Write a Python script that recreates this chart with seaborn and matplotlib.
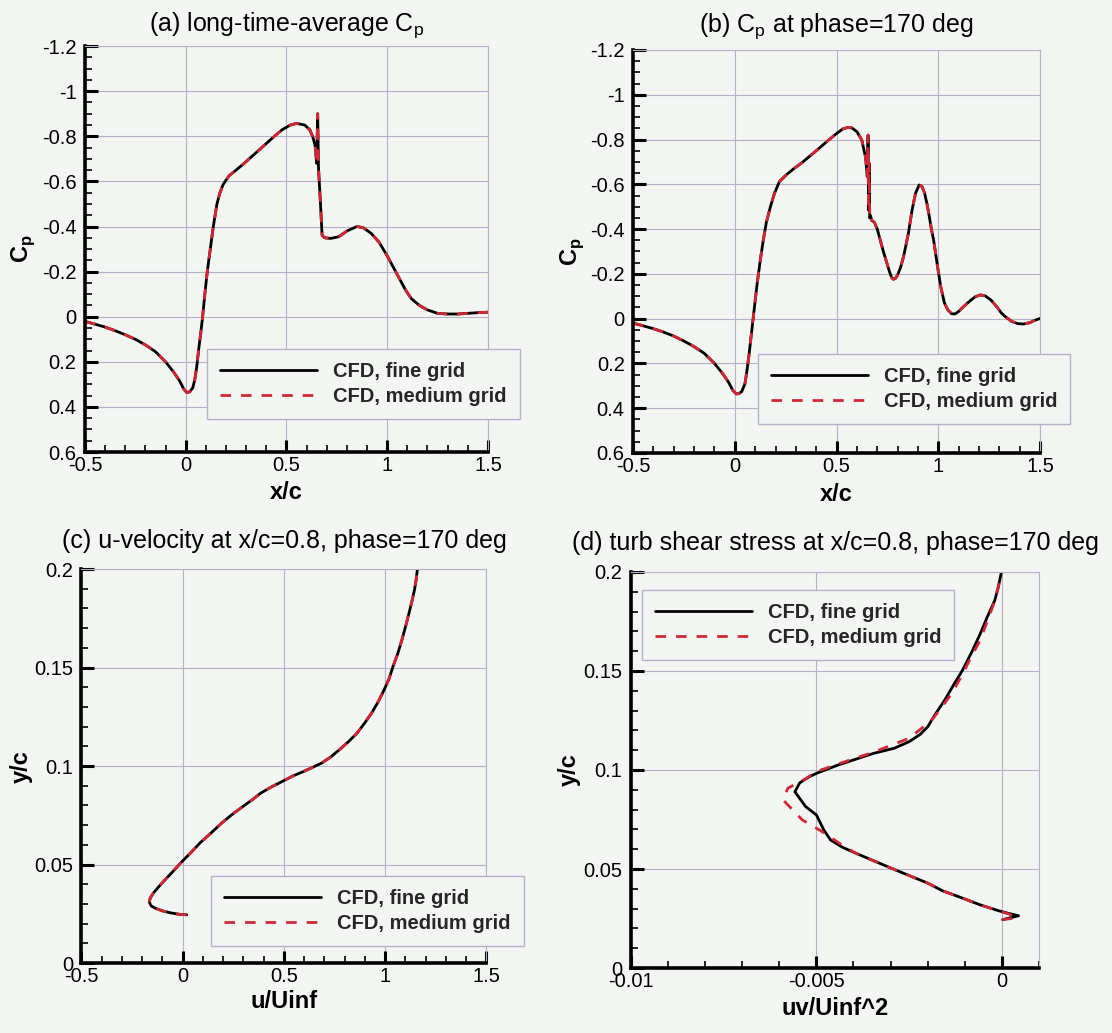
import numpy as np
import pandas as pd
import matplotlib
matplotlib.use('Agg')
import matplotlib.pyplot as plt
import seaborn as sns
from matplotlib.ticker import MultipleLocator, FuncFormatter

# (a) long-time-average Cp
xa_fine = [-0.5, -0.45, -0.4, -0.35, -0.3, -0.25, -0.2, -0.15, -0.1, -0.06, -0.03, -0.01, 0.005,
           0.02, 0.035, 0.045, 0.055, 0.065, 0.075, 0.084, 0.095, 0.107, 0.122, 0.137, 0.155, 0.17,
           0.185, 0.2, 0.215, 0.25, 0.29, 0.34, 0.39, 0.44, 0.48, 0.52, 0.55, 0.59, 0.615, 0.63,
           0.642, 0.65, 0.655, 0.659, 0.668, 0.677, 0.69, 0.72, 0.76, 0.80, 0.85, 0.88, 0.92, 0.96,
           1.0, 1.03, 1.06, 1.09, 1.12, 1.16, 1.2, 1.25, 1.3, 1.35, 1.4, 1.45, 1.5]
cpa_fine = [0.021, 0.033, 0.046, 0.062, 0.08, 0.10, 0.125, 0.155, 0.2, 0.245, 0.285, 0.32, 0.336,
            0.333, 0.315, 0.28, 0.22, 0.14, 0.07, 0.0, -0.1, -0.2, -0.3, -0.4, -0.5, -0.55,
            -0.585, -0.605, -0.625, -0.65, -0.68, -0.72, -0.76, -0.80, -0.83, -0.85, -0.857, -0.85, -0.83, -0.80,
            -0.76, -0.68, -0.90, -0.66, -0.515, -0.36, -0.35, -0.347, -0.355, -0.38, -0.40, -0.395, -0.37, -0.33,
            -0.27, -0.22, -0.17, -0.12, -0.08, -0.05, -0.03, -0.015, -0.012, -0.012, -0.015, -0.018, -0.02]
xa_med = xa_fine
cpa_med = cpa_fine

# (b) Cp at phase=170 deg
xb_fine = [-0.5, -0.45, -0.4, -0.35, -0.3, -0.25, -0.2, -0.15, -0.1, -0.06, -0.03, -0.01, 0.007,
           0.02, 0.034, 0.05, 0.06, 0.07, 0.08, 0.09, 0.1, 0.11, 0.125, 0.14, 0.155, 0.175, 0.195,
           0.219, 0.25, 0.29, 0.325, 0.37, 0.413, 0.46, 0.5, 0.53, 0.554, 0.575, 0.6, 0.624, 0.642,
           0.651, 0.655, 0.657, 0.66, 0.663, 0.667, 0.672, 0.686, 0.70, 0.712, 0.73, 0.745, 0.76,
           0.77, 0.779, 0.79, 0.80, 0.815, 0.83, 0.853, 0.87, 0.888, 0.906, 0.92, 0.933, 0.945,
           0.955, 0.966, 0.977, 0.995, 1.012, 1.03, 1.047, 1.065, 1.082, 1.10, 1.12, 1.15, 1.18,
           1.206, 1.23, 1.259, 1.29, 1.31, 1.329, 1.36, 1.39, 1.418, 1.45, 1.47, 1.5]
cpb_fine = [0.02, 0.032, 0.045, 0.06, 0.078, 0.1, 0.125, 0.155, 0.2, 0.245, 0.285, 0.32, 0.336,
            0.335, 0.326, 0.29, 0.23, 0.16, 0.08, 0.0, -0.08, -0.158, -0.26, -0.351, -0.43, -0.5, -0.56,
            -0.612, -0.64, -0.67, -0.693, -0.727, -0.76, -0.797, -0.827, -0.847, -0.854, -0.852, -0.835, -0.798, -0.723,
            -0.634, -0.82, -0.485, -0.695, -0.45, -0.46, -0.44, -0.43, -0.40, -0.36, -0.30, -0.255, -0.21,
            -0.185, -0.176, -0.18, -0.195, -0.23, -0.28, -0.381, -0.48, -0.56, -0.597, -0.59, -0.56, -0.51,
            -0.46, -0.40, -0.351, -0.24, -0.143, -0.07, -0.039, -0.022, -0.021, -0.032, -0.05, -0.075, -0.097,
            -0.106, -0.102, -0.083, -0.05, -0.025, -0.009, 0.012, 0.022, 0.024, 0.018, 0.009, -0.001]
xb_med = xb_fine
cpb_med = cpb_fine

# (c) u-velocity profile at x/c=0.8
uc_fine = [0.02, -0.02, -0.06, -0.10, -0.135, -0.155, -0.165, -0.16, -0.145, -0.116, -0.085, -0.055,
           -0.01, 0.04, 0.086, 0.14, 0.192, 0.245, 0.298, 0.345, 0.386, 0.44, 0.492, 0.545, 0.598,
           0.645, 0.686, 0.73, 0.774, 0.82, 0.862, 0.9, 0.933, 0.965, 0.995, 1.02, 1.039, 1.062,
           1.083, 1.10, 1.118, 1.133, 1.145, 1.153, 1.159]
yc_fine = [0.0245, 0.0248, 0.0255, 0.0265, 0.0278, 0.029, 0.031, 0.033, 0.0355, 0.039, 0.0425, 0.0457,
           0.0508, 0.056, 0.061, 0.066, 0.071, 0.0755, 0.0795, 0.083, 0.0863, 0.0895, 0.0922, 0.095, 0.0973,
           0.0995, 0.1015, 0.1045, 0.1083, 0.1125, 0.1168, 0.122, 0.1269, 0.1325, 0.1387, 0.1445, 0.1506, 0.157,
           0.1641, 0.1705, 0.1777, 0.184, 0.1895, 0.1945, 0.1997]
uc_med = uc_fine
yc_med = yc_fine

# (d) turbulent shear stress profile at x/c=0.8
uvd_fine = [0.00002, 0.00045, 0.0002, -0.0001, -0.0006, -0.00106, -0.0016, -0.0020, -0.0025, -0.00298,
            -0.0035, -0.00394, -0.0043, -0.00462, -0.0048, -0.005, -0.00529, -0.00558, -0.00545, -0.0052,
            -0.005, -0.00442, -0.00346, -0.0029, -0.0025, -0.0022, -0.0020, -0.0018, -0.00154, -0.0013,
            -0.00106, -0.0008, -0.00058, -0.0004, -0.00019, -0.0001, -0.00002]
yd_fine = [0.0244, 0.0264, 0.0275, 0.029, 0.032, 0.0353, 0.039, 0.0429, 0.0467, 0.0504,
           0.0545, 0.058, 0.061, 0.0647, 0.0697, 0.0773, 0.0815, 0.089, 0.0935, 0.0965,
           0.0983, 0.1025, 0.1084, 0.111, 0.1143, 0.118, 0.1218, 0.128, 0.1353, 0.143,
           0.1504, 0.16, 0.1689, 0.177, 0.1857, 0.192, 0.1992]
uvd_med = [0.0, 0.0004, 0.0002, -0.0001, -0.0006, -0.00106, -0.0016, -0.0020, -0.0025, -0.00298,
           -0.0035, -0.00394, -0.0043, -0.0049, -0.00538, -0.0059, -0.00577, -0.0053, -0.005, -0.00442,
           -0.00346, -0.0025, -0.0019, -0.00165, -0.00135, -0.0011, -0.00087, -0.0006, -0.00038, -0.0002,
           -0.0001, 0.0]
yd_med = [0.0245, 0.0252, 0.0272, 0.029, 0.032, 0.0353, 0.039, 0.0429, 0.0467, 0.0504,
          0.0545, 0.058, 0.062, 0.0695, 0.0748, 0.0849, 0.0908, 0.0955, 0.0992, 0.1030,
          0.1090, 0.116, 0.125, 0.131, 0.1387, 0.147, 0.1555, 0.165, 0.1756, 0.185,
          0.1924, 0.2]

bg = '#f3f5f3'
grid_c = '#b5b2c6'
red = '#cc2936'

sns.set_theme(style='white')
plt.rcParams['font.family'] = ['Liberation Sans', 'DejaVu Sans']
plt.rcParams['mathtext.fontset'] = 'custom'
plt.rcParams['mathtext.rm'] = 'Liberation Sans'
plt.rcParams['mathtext.bf'] = 'Liberation Sans:bold'
plt.rcParams['axes.unicode_minus'] = False

fig = plt.figure(figsize=(11.12, 10.33), dpi=100, facecolor=bg)


def fmt(v, pos):
    return f'{round(v, 6) + 0:g}'


def draw(rect, xf, yf, xm, ym, xlim, ylim, xmaj, xmin, ymaj, ymin):
    ax = fig.add_axes(rect)
    ax.set_facecolor(bg)
    sns.lineplot(x=xf, y=yf, sort=False, estimator=None, color='black', lw=2.0,
                 label='CFD, fine grid', ax=ax)
    sns.lineplot(x=xm, y=ym, sort=False, estimator=None, color=red, lw=2.0,
                 ls=(0, (3.8, 3.6)), label='CFD, medium grid', ax=ax)
    ax.set_xlim(*xlim)
    ax.set_ylim(*ylim)
    ax.xaxis.set_major_locator(MultipleLocator(xmaj))
    ax.xaxis.set_minor_locator(MultipleLocator(xmin))
    ax.yaxis.set_major_locator(MultipleLocator(ymaj))
    ax.yaxis.set_minor_locator(MultipleLocator(ymin))
    ax.xaxis.set_major_formatter(FuncFormatter(fmt))
    ax.yaxis.set_major_formatter(FuncFormatter(fmt))
    ax.grid(True, which='major', color=grid_c, lw=0.8)
    ax.set_axisbelow(True)
    for s in ['left', 'bottom']:
        ax.spines[s].set_color('black')
        ax.spines[s].set_linewidth(2.6)
    for s in ['top', 'right']:
        ax.spines[s].set_color(grid_c)
        ax.spines[s].set_linewidth(0.8)
    ax.tick_params(which='both', direction='in', left=True, bottom=True, top=False, right=False,
                   color='black', labelsize=14.5, labelcolor='black')
    ax.tick_params(which='major', length=9, width=2.2)
    ax.tick_params(which='minor', length=5, width=1.2)
    ax.tick_params(axis='y', pad=6)
    ax.tick_params(axis='x', pad=3)
    return ax


axA = draw([0.0764, 0.5624, 0.3624, 0.3930], xa_fine, cpa_fine, xa_med, cpa_med,
           (-0.5, 1.5), (0.6, -1.2), 0.5, 0.1, 0.2, 0.05)
axB = draw([0.5693, 0.5615, 0.3660, 0.3901], xb_fine, cpb_fine, xb_med, cpb_med,
           (-0.5, 1.5), (0.6, -1.2), 0.5, 0.1, 0.2, 0.05)
axC = draw([0.0732, 0.0677, 0.3642, 0.3814], uc_fine, yc_fine, uc_med, yc_med,
           (-0.5, 1.5), (0, 0.2), 0.5, 0.1, 0.05, 0.01)
axD = draw([0.5674, 0.0629, 0.3669, 0.3834], uvd_fine, yd_fine, uvd_med, yd_med,
           (-0.01, 0.001), (0, 0.2), 0.005, 0.001, 0.05, 0.01)

titles = ['(a) long-time-average C$_\\mathregular{p}$',
          '(b) C$_\\mathregular{p}$ at phase=170 deg',
          '(c) u-velocity at x/c=0.8, phase=170 deg',
          '(d) turb shear stress at x/c=0.8, phase=170 deg']
title_pads = [11, 13, 15, 16]
xlabels = ['x/c', 'x/c', 'u/Uinf', 'uv/Uinf^2']
ylabels = ['C$_\\mathregular{p}$', 'C$_\\mathregular{p}$', 'y/c', 'y/c']
xlab_y = [-0.072, -0.075, -0.069, -0.073]
ylab_x = [-0.118, -0.115, -0.121, -0.124]
leg_anchor = [(0.303, 0.254), (0.307, 0.246), (0.321, 0.221), (0.027, 0.955)]

for ax, t, tp, xl, yl, xy, yx, la in zip([axA, axB, axC, axD], titles, title_pads, xlabels,
                                         ylabels, xlab_y, ylab_x, leg_anchor):
    ax.set_title(t, fontsize=18, pad=tp, color='black')
    ax.set_xlabel(xl, fontsize=17, fontweight='bold', color='black')
    ax.set_ylabel(yl, fontsize=17, fontweight='bold', color='black')
    ax.xaxis.set_label_coords(0.5, xy)
    ax.yaxis.set_label_coords(yx, 0.5)
    leg = ax.legend(loc='upper left', bbox_to_anchor=la, borderaxespad=0, frameon=True,
                    fancybox=False, edgecolor=grid_c, facecolor=bg, framealpha=1,
                    prop={'weight': 'bold', 'size': 14.5}, handlelength=4.8,
                    handletextpad=0.8, borderpad=0.65, labelspacing=0.3)
    leg.get_frame().set_linewidth(1.0)

fig.savefig('out.png', dpi=100, facecolor=bg)
